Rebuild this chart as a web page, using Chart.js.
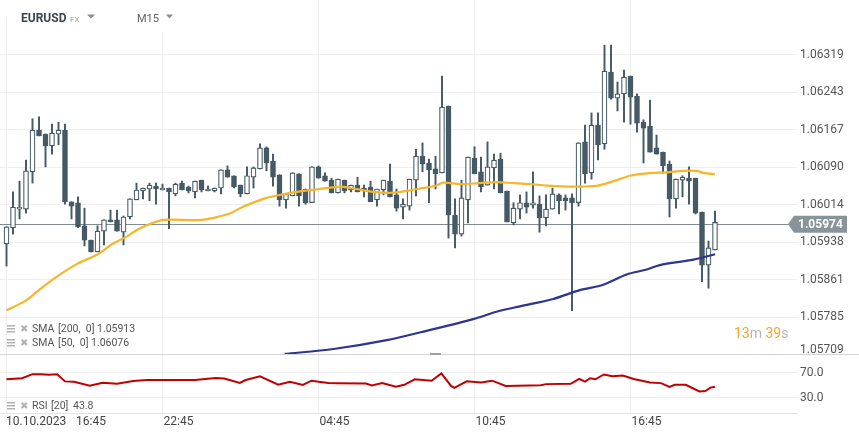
<!DOCTYPE html>
<html>
<head>
<meta charset="utf-8">
<script src="https://cdn.jsdelivr.net/npm/chart.js@4.4.0/dist/chart.umd.min.js"></script>
<style>
  html, body { margin: 0; padding: 0; background: #fff; }
  #wrap { position: relative; width: 859px; height: 439px; }
</style>
</head>
<body>
<div id="wrap"><canvas id="chart" width="859" height="439"></canvas></div>
<script>
// EURUSD M15, 10.10.2023 16:45 onwards - o/h/l/c
const opens = [1.05934, 1.05967, 1.06005, 1.06005, 1.06081, 1.06166, 1.06158, 1.06134, 1.06158, 1.06166,
  1.06020, 1.06018, 1.05971, 1.05942, 1.05918, 1.05960, 1.05983, 1.05983, 1.05958, 1.05989,
  1.06024, 1.06042, 1.06046, 1.06052, 1.06044, 1.06048, 1.06036, 1.06058, 1.06050, 1.06040,
  1.06064, 1.06042, 1.06042, 1.06048, 1.06085, 1.06073, 1.06054, 1.06036, 1.06070, 1.06087,
  1.06130, 1.06103, 1.06075, 1.06024, 1.06032, 1.06077, 1.06046, 1.06018, 1.06091, 1.06073,
  1.06064, 1.06038, 1.06064, 1.06044, 1.06054, 1.06048, 1.06050, 1.06024, 1.06044, 1.06062,
  1.06034, 1.06009, 1.06011, 1.06064, 1.06113, 1.06099, 1.06087, 1.06079, 1.06215, 1.05993,
  1.05954, 1.06024, 1.06109, 1.06081, 1.06054, 1.06089, 1.06107, 1.06042, 1.05977, 1.06005,
  1.06018, 1.06013, 1.06015, 1.05987, 1.06005, 1.06034, 1.06028, 1.06028, 1.06018, 1.06142,
  1.06079, 1.06176, 1.06138, 1.06284, 1.06231, 1.06240, 1.06276, 1.06235, 1.06182, 1.06174,
  1.06130, 1.06121, 1.06097, 1.06026, 1.06064, 1.06068, 1.06068, 1.05999, 1.05891, 1.05922];
const highs = [1.05969, 1.06040, 1.06062, 1.06105, 1.06189, 1.06193, 1.06158, 1.06178, 1.06182, 1.06178,
  1.06020, 1.06030, 1.06007, 1.05942, 1.05971, 1.05983, 1.06003, 1.06003, 1.05991, 1.06026,
  1.06058, 1.06048, 1.06058, 1.06058, 1.06056, 1.06048, 1.06058, 1.06062, 1.06052, 1.06062,
  1.06064, 1.06052, 1.06048, 1.06085, 1.06093, 1.06073, 1.06054, 1.06091, 1.06091, 1.06138,
  1.06132, 1.06117, 1.06075, 1.06036, 1.06079, 1.06077, 1.06046, 1.06091, 1.06093, 1.06079,
  1.06068, 1.06066, 1.06064, 1.06054, 1.06070, 1.06054, 1.06062, 1.06046, 1.06064, 1.06097,
  1.06046, 1.06026, 1.06066, 1.06127, 1.06140, 1.06107, 1.06113, 1.06276, 1.06215, 1.06026,
  1.06064, 1.06111, 1.06132, 1.06111, 1.06142, 1.06117, 1.06119, 1.06042, 1.06018, 1.06034,
  1.06040, 1.06081, 1.06032, 1.06034, 1.06048, 1.06036, 1.06034, 1.06036, 1.06140, 1.06176,
  1.06201, 1.06201, 1.06339, 1.06339, 1.06264, 1.06288, 1.06276, 1.06240, 1.06187, 1.06227,
  1.06156, 1.06121, 1.06103, 1.06066, 1.06073, 1.06091, 1.06068, 1.05999, 1.05940, 1.06001];
const lows = [1.05889, 1.05954, 1.05985, 1.05997, 1.06058, 1.06154, 1.06091, 1.06117, 1.06136, 1.06015,
  1.05985, 1.05967, 1.05930, 1.05918, 1.05918, 1.05932, 1.05979, 1.05960, 1.05932, 1.05985,
  1.06024, 1.06026, 1.06022, 1.06015, 1.06044, 1.05965, 1.06032, 1.06044, 1.06038, 1.06028,
  1.06040, 1.06042, 1.06040, 1.06036, 1.06070, 1.06048, 1.06030, 1.06036, 1.06048, 1.06087,
  1.06083, 1.06052, 1.06011, 1.06007, 1.06032, 1.06011, 1.06015, 1.06018, 1.06068, 1.06062,
  1.06038, 1.06038, 1.06038, 1.06040, 1.06040, 1.06030, 1.06020, 1.06011, 1.06034, 1.06030,
  1.06001, 1.05985, 1.06003, 1.06032, 1.06081, 1.06018, 1.06046, 1.06079, 1.05946, 1.05926,
  1.05950, 1.05977, 1.06077, 1.06040, 1.06054, 1.06046, 1.06038, 1.05979, 1.05973, 1.05985,
  1.05997, 1.06007, 1.05958, 1.05971, 1.06005, 1.05995, 1.06003, 1.05798, 1.06011, 1.06058,
  1.06066, 1.06105, 1.06127, 1.06229, 1.06205, 1.06182, 1.06178, 1.06162, 1.06099, 1.06121,
  1.06117, 1.06079, 1.05989, 1.06007, 1.06030, 1.06015, 1.05995, 1.05857, 1.05844, 1.05922];
const closes = [1.05969, 1.06009, 1.06009, 1.06083, 1.06166, 1.06154, 1.06134, 1.06160, 1.06166, 1.06020,
  1.06011, 1.05969, 1.05942, 1.05918, 1.05960, 1.05983, 1.05979, 1.05960, 1.05989, 1.06026,
  1.06044, 1.06048, 1.06054, 1.06046, 1.06048, 1.06040, 1.06056, 1.06044, 1.06042, 1.06062,
  1.06044, 1.06046, 1.06048, 1.06085, 1.06070, 1.06050, 1.06036, 1.06073, 1.06089, 1.06130,
  1.06099, 1.06070, 1.06024, 1.06036, 1.06079, 1.06032, 1.06018, 1.06091, 1.06068, 1.06062,
  1.06038, 1.06066, 1.06042, 1.06054, 1.06040, 1.06042, 1.06020, 1.06046, 1.06064, 1.06030,
  1.06007, 1.06015, 1.06066, 1.06113, 1.06097, 1.06085, 1.06077, 1.06213, 1.05993, 1.05954,
  1.06028, 1.06111, 1.06077, 1.06050, 1.06091, 1.06105, 1.06038, 1.05979, 1.06007, 1.06018,
  1.06009, 1.06018, 1.05987, 1.06005, 1.06036, 1.06022, 1.06022, 1.06018, 1.06140, 1.06077,
  1.06176, 1.06136, 1.06286, 1.06231, 1.06240, 1.06274, 1.06233, 1.06180, 1.06170, 1.06121,
  1.06117, 1.06093, 1.06026, 1.06066, 1.06070, 1.06062, 1.05997, 1.05891, 1.05926, 1.05978];

// moving averages (x = candle number)
const sma50X = [0, 2.9, 4.9, 7.7, 10.8, 13.9, 16.4, 18.5, 20, 21.6, 24.1, 30, 34.1, 36.4, 40, 42.1, 45.7, 48.2, 51.3, 53.4,
  56.4, 59, 61.6, 63.6, 65.9, 67.2, 69.8, 72.8, 75.4, 78, 80.5, 83.1, 86.2, 88.7, 91, 93.9, 95.9, 98.5, 101.6, 104.1, 106.2, 107.2, 109];
const sma50 = [1.05799, 1.05818, 1.05839, 1.05867, 1.05893, 1.05912, 1.05935, 1.05949, 1.05962, 1.05972, 1.05983, 1.05983, 1.05995, 1.06010, 1.06028, 1.06034, 1.06042, 1.06046, 1.06051, 1.06047,
  1.06040, 1.06038, 1.06042, 1.06047, 1.06052, 1.06059, 1.06056, 1.06058, 1.06060, 1.06058, 1.06056, 1.06053, 1.06051, 1.06051, 1.06053, 1.06064, 1.06073, 1.06078, 1.06080, 1.06083, 1.06083, 1.06079, 1.06076];
const sma200X = [42.8, 50.3, 58.5, 65.2, 71.8, 75.9, 79, 84.1, 88.2, 91.8, 95.4, 98.5, 100.5, 105.7, 109];
const sma200 = [1.05710, 1.05720, 1.05738, 1.05759, 1.05781, 1.05798, 1.05807, 1.05822, 1.05840, 1.05851, 1.05872, 1.05882, 1.05891, 1.05902, 1.05913];

// RSI [20]
const rsiX = [0, 2.4, 4, 5.3, 6.5, 7.8, 9, 10.4, 12.8, 14.8, 17, 19.5, 21.6, 25.6, 29, 32.2, 33.5, 35.9, 36.8, 39,
  41.8, 43.6, 45.6, 46.9, 49.5, 51, 55.3, 56.2, 57.8, 59.9, 61.2, 62.8, 65.4, 66.9, 68.4, 68.9, 70.8, 73, 74.7, 76.8,
  82.2, 83, 86.8, 88.1, 89, 89.8, 90.6, 91.9, 93.2, 94.8, 96.5, 99, 100.7, 102, 102.8, 104.5, 106.6, 107.5, 108.3, 109];
const rsi = [58.3, 60, 66.5, 66.5, 65.5, 66.5, 55, 54.5, 48, 52.9, 51.3, 55.6, 57.2, 57.2, 57.2, 60.5, 59.5, 52.4, 57.2, 63.1,
  49.7, 54.5, 49.2, 56.1, 52.5, 52, 51.5, 48.5, 52.4, 46.5, 49.5, 58.3, 56.1, 67.8, 47.8, 44.5, 55, 53.3, 56.1, 47.8,
  48.9, 50.6, 51.1, 58.9, 54.5, 60, 58.3, 66.1, 63.3, 64.4, 58.9, 53.3, 52.2, 46.1, 49.5, 49.5, 38.9, 39.5, 45, 46.5];

const priceTicks = [1.05709, 1.05785, 1.05861, 1.05938, 1.06014, 1.06090, 1.06167, 1.06243, 1.06319];
const rsiTicks = [30, 70];
const timeTicks = [0, 24, 48, 72, 96];
const timeLabels = ['16:45', '22:45', '04:45', '10:45', '16:45'];
const lastPrice = 1.05974;

Chart.defaults.font.family = 'Roboto';
const dark = '#455a64';
const idx = opens.map((_, i) => i);

// keep the plot area exactly at 0..797 x 0..413
const noPad = s => { s.paddingTop = 0; s.paddingBottom = 0; s.paddingLeft = 0; s.paddingRight = 0; };

const overlay = {
  id: 'overlay',
  beforeDatasetsDraw(chart) {
    const { ctx, scales } = chart;
    ctx.save();
    // header covers the top of the grid
    ctx.fillStyle = '#fff';
    ctx.fillRect(0, 0, 240, 17);
    ctx.fillRect(128, 17, 52, 15);
    // last price line
    const y = Math.round(scales.y.getPixelForValue(lastPrice)) + 0.5;
    ctx.strokeStyle = '#808c91';
    ctx.lineWidth = 1;
    ctx.beginPath(); ctx.moveTo(0, y); ctx.lineTo(790, y); ctx.stroke();
    ctx.restore();
  },
  afterDraw(chart) {
    const { ctx, scales } = chart;
    const f = (w, s, fam) => `${w} ${s}px ${fam || 'Roboto'}`;
    ctx.save();
    ctx.textBaseline = 'middle';
    ctx.textAlign = 'left';

    // pane separator
    ctx.strokeStyle = '#d4d4d4';
    ctx.lineWidth = 1;
    ctx.beginPath(); ctx.moveTo(0, 354.5); ctx.lineTo(859, 354.5); ctx.stroke();
    ctx.fillStyle = '#a0a0a0';
    ctx.fillRect(430, 353, 11, 2);

    // last price tag
    const py = scales.y.getPixelForValue(lastPrice);
    ctx.fillStyle = '#88949a';
    ctx.beginPath();
    ctx.moveTo(788, py); ctx.lineTo(794, py - 8.5); ctx.lineTo(847, py - 8.5);
    ctx.lineTo(847, py + 8.5); ctx.lineTo(794, py + 8.5); ctx.closePath(); ctx.fill();
    ctx.fillStyle = '#fff';
    ctx.font = f('bold', 12);
    ctx.fillText(lastPrice.toFixed(5), 798, py + 1);

    // lowest price label + RSI labels
    ctx.fillStyle = '#555';
    ctx.font = f('normal', 12);
    ctx.fillText(priceTicks[0].toFixed(5), 800, 350);
    rsiTicks.forEach(v => ctx.fillText(v.toFixed(1), 800, scales.y2.getPixelForValue(v) + 1));

    // time axis
    ctx.fillStyle = '#444';
    ctx.fillText('10.10.2023', 6, 422);
    timeTicks.forEach((t, k) => {
      ctx.fillText(timeLabels[k], k === 0 ? 76 : scales.x.getPixelForValue(t) + 1, 422);
    });

    // countdown
    let cx = 734;
    ctx.font = f('normal', 14);
    [['13', '#f5a623'], ['m', '#b5b5b5'], [' ', null], ['39', '#f5a623'], ['s', '#b5b5b5']].forEach(([t, c]) => {
      if (c) { ctx.fillStyle = c; ctx.fillText(t, cx, 334); }
      cx += ctx.measureText(t).width;
    });

    // indicator legends
    const legend = (y, parts) => {
      ctx.fillStyle = '#b3b3b3';
      ctx.fillRect(7, y - 4, 8, 1.5);
      ctx.fillRect(7, y - 1, 8, 1.5);
      ctx.fillRect(7, y + 2, 8, 1.5);
      ctx.font = f('bold', 10, 'DejaVu Sans');
      ctx.fillText('\u2716', 20, y);
      ctx.fillStyle = '#555';
      ctx.font = f('normal', 10.5);
      parts.forEach(([t, x]) => ctx.fillText(t, x, y + 0.5));
    };
    legend(329, [['SMA', 32], ['[200,  0]', 58], ['1.05913', 97]]);
    legend(343, [['SMA', 32], ['[50,  0]', 58], ['1.06076', 91]]);
    legend(406, [['RSI', 32], ['[20]', 51], ['43.8', 73]]);

    // header
    ctx.fillStyle = '#37474f';
    ctx.font = f('bold', 12);
    ctx.fillText('EURUSD', 21, 19);
    ctx.fillStyle = '#9e9e9e';
    ctx.font = f('normal', 8);
    ctx.fillText('FX', 70, 20);
    ctx.fillStyle = '#616161';
    ctx.font = f('normal', 11);
    ctx.fillText('M15', 137, 19);
    ctx.fillStyle = '#8d8d8d';
    [[87, 95], [166, 173]].forEach(([a, b]) => {
      ctx.beginPath(); ctx.moveTo(a, 14.5); ctx.lineTo(b, 14.5); ctx.lineTo((a + b) / 2, 18.5); ctx.closePath(); ctx.fill();
    });
    ctx.restore();
  }
};

new Chart(document.getElementById('chart'), {
  type: 'bar',
  data: {
    datasets: [
      {
        type: 'line', label: 'SMA 50', order: 0,
        data: sma50X.map((x, k) => ({ x, y: sma50[k] })),
        borderColor: '#f7b52c', borderWidth: 2.2, pointRadius: 0, tension: 0.3, yAxisID: 'y'
      },
      {
        type: 'line', label: 'SMA 200', order: 0,
        data: sma200X.map((x, k) => ({ x, y: sma200[k] })),
        borderColor: '#2d3590', borderWidth: 2.2, pointRadius: 0, tension: 0.3, yAxisID: 'y'
      },
      {
        type: 'line', label: 'RSI', order: 0,
        data: rsiX.map((x, k) => ({ x, y: rsi[k] })),
        borderColor: '#c00000', borderWidth: 2, pointRadius: 0, tension: 0, yAxisID: 'y2'
      },
      {
        label: 'bodies', order: 1, grouped: false,
        data: idx.map(i => ({ x: i, y: [opens[i], closes[i]] })),
        backgroundColor: idx.map(i => closes[i] >= opens[i] ? '#ffffff' : dark),
        borderColor: dark, borderWidth: 1.2, borderSkipped: false,
        barPercentage: 1, categoryPercentage: 1, maxBarThickness: 5, minBarLength: 1, yAxisID: 'y'
      },
      {
        label: 'wicks', order: 2, grouped: false,
        data: idx.map(i => ({ x: i, y: [lows[i], highs[i]] })),
        backgroundColor: dark, borderWidth: 0,
        barPercentage: 1, categoryPercentage: 1, maxBarThickness: 1.3, yAxisID: 'y'
      }
    ]
  },
  options: {
    responsive: false,
    animation: false,
    events: [],
    layout: { padding: 0, autoPadding: false },
    plugins: { legend: { display: false }, tooltip: { enabled: false } },
    scales: {
      x: {
        type: 'linear', min: -1, max: 121.615, offset: false,
        afterBuildTicks: s => { s.ticks = timeTicks.map(v => ({ value: v })); },
        ticks: { display: false },
        grid: { color: '#efefef', drawTicks: false, offset: false },
        border: { display: true, color: '#e2e2e2' },
        afterFit: s => { s.height = 26; noPad(s); }
      },
      y: {
        position: 'right', min: 1.055897, max: 1.06431,
        afterBuildTicks: s => { s.ticks = priceTicks.map(v => ({ value: v })); },
        ticks: {
          padding: 3, color: '#555', font: { size: 12 },
          callback: (v, i) => i === 0 ? '' : v.toFixed(5)
        },
        grid: { color: '#efefef', drawTicks: false },
        border: { display: false },
        afterFit: s => { s.width = 62; noPad(s); }
      },
      y2: {
        position: 'right', min: 4.4, max: 665.2,
        afterBuildTicks: s => { s.ticks = rsiTicks.map(v => ({ value: v })); },
        ticks: { display: false },
        grid: { color: '#efefef', drawTicks: false },
        border: { display: false },
        afterFit: s => { s.width = 0; noPad(s); }
      }
    }
  },
  plugins: [overlay]
});
</script>
</body>
</html>
